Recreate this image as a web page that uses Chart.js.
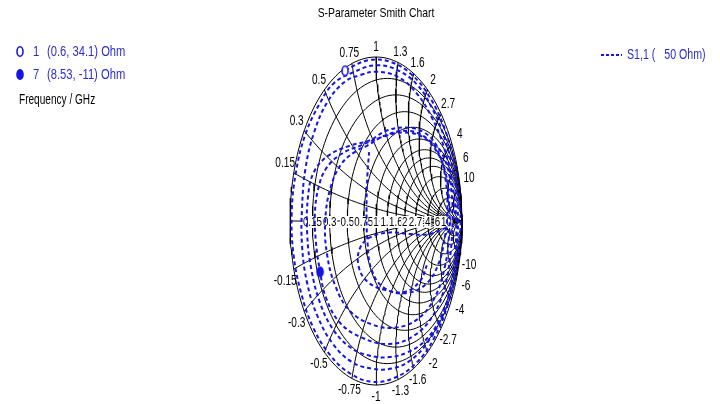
<!DOCTYPE html>
<html>
<head>
<meta charset="utf-8">
<title>S-Parameter Smith Chart</title>
<script src="https://cdn.jsdelivr.net/npm/chart.js@4.4.0/dist/chart.umd.min.js"></script>
<style>
  html, body { margin: 0; padding: 0; background: #fff; }
  #wrap { position: relative; width: 720px; height: 404px; }
</style>
</head>
<body>
<div id="wrap"><canvas id="smith" width="720" height="404"></canvas></div>
<script>
const FONT = "'Liberation Sans', Arial, sans-serif";
const BLUE = '#1414e6';
const TEXT_BLUE = '#2b2bd1';
const INK = '#000';

// Smith grid values (normalised to 50 Ohm)
const rGrid = [0.15, 0.3, 0.5, 0.75, 1, 1.3, 1.6, 2, 2.7, 4, 6, 10];
const xGrid = [0.15, 0.3, 0.5, 0.75, 1, 1.3, 1.6, 2, 2.7, 4, 6, 10];

const s11Re = [
  -0.36, -0.09, 0.17, 0.42, 0.63, 0.80, 0.92, 0.97, 0.98, 0.93, 0.83, 0.67, 0.46, 0.20, -0.05,
  -0.30, -0.53, -0.73, -0.87, -0.96, -0.98, -0.93, -0.82, -0.65, -0.49,
  -0.25, 0.00, 0.25, 0.48, 0.66, 0.80, 0.90, 0.95, 0.94, 0.88, 0.77, 0.60, 0.40, 0.18, -0.05,
  -0.28, -0.50, -0.68, -0.80, -0.86, -0.86, -0.82, -0.72, -0.56, -0.36,
  -0.18, 0.00, 0.25, 0.47, 0.65, 0.79, 0.88, 0.93, 0.92, 0.86, 0.74, 0.57, 0.37, 0.15, -0.08,
  -0.30, -0.50, -0.65, -0.75, -0.80, -0.79, -0.72, -0.55, -0.30, -0.08,
  0.12, 0.34, 0.56, 0.72, 0.83, 0.88, 0.89, 0.87, 0.81, 0.67, 0.44, 0.15, -0.17, -0.42, -0.58,
  -0.65, -0.70, -0.71, -0.67, -0.58, -0.40, -0.18,
  0.06, 0.32, 0.55, 0.71, 0.81, 0.85, 0.85, 0.80, 0.68, 0.48, 0.22, -0.05, -0.30, -0.47, -0.57,
  -0.59, -0.53, -0.40, -0.22, -0.10,
  0.10, 0.37, 0.60, 0.74, 0.81, 0.83, 0.80, 0.72, 0.57, 0.34, 0.10, -0.05, -0.10, -0.11, -0.10, -0.08,
  null,
  0.82, 0.62, 0.40, 0.16, -0.07, -0.19, -0.20, -0.10, 0.10, 0.35, 0.52, 0.59
];
const s11Im = [
  0.92, 0.98, 0.97, 0.89, 0.75, 0.56, 0.33, 0.12, -0.08, -0.30, -0.52, -0.72, -0.87, -0.96, -0.98,
  -0.93, -0.82, -0.65, -0.44, -0.20, 0.05, 0.30, 0.53, 0.72, 0.84,
  0.91, 0.95, 0.92, 0.83, 0.68, 0.50, 0.30, 0.08, -0.15, -0.38, -0.58, -0.74, -0.85, -0.90, -0.90,
  -0.86, -0.75, -0.58, -0.38, -0.15, 0.08, 0.32, 0.54, 0.73, 0.85,
  0.89, 0.91, 0.88, 0.78, 0.63, 0.45, 0.25, 0.03, -0.20, -0.42, -0.60, -0.73, -0.80, -0.83, -0.82,
  -0.77, -0.66, -0.50, -0.30, -0.08, 0.15, 0.30, 0.40, 0.46, 0.49,
  0.55, 0.57, 0.54, 0.45, 0.33, 0.17, 0.00, -0.18, -0.38, -0.57, -0.70, -0.75, -0.71, -0.62, -0.47,
  -0.31, -0.12, 0.05, 0.20, 0.32, 0.41, 0.46,
  0.51, 0.54, 0.51, 0.42, 0.29, 0.12, -0.08, -0.28, -0.47, -0.60, -0.65, -0.63, -0.55, -0.40, -0.20,
  0.00, 0.20, 0.35, 0.43, 0.46,
  0.52, 0.55, 0.50, 0.40, 0.25, 0.06, -0.10, -0.27, -0.39, -0.44, -0.41, -0.30, -0.12, 0.08, 0.28, 0.42,
  null,
  -0.04, -0.08, -0.08, -0.07, -0.10, -0.17, -0.28, -0.37, -0.42, -0.43, -0.36, -0.27
];

// markers: number, resistance and reactance in Ohm
const markerIds = ['1', '7'];
const markerR = [0.6, 8.53];
const markerX = [34.1, -11];
const z0 = 50;

// normalised impedance -> reflection coefficient
function gamma(r, x) {
  const d = (r + 1) * (r + 1) + x * x;
  return { x: (r * r - 1 + x * x) / d, y: (2 * x) / d };
}

// narrow text: the original uses a condensed face
function label(ctx, str, x, y, size, align, color, sx, box) {
  ctx.save();
  ctx.font = size + 'px ' + FONT;
  ctx.textAlign = align;
  ctx.textBaseline = 'middle';
  ctx.translate(x, y);
  ctx.scale(sx, 1);
  if (box) {
    const w = ctx.measureText(str).width;
    ctx.fillStyle = '#fff';
    ctx.fillRect(-w / 2 - 1, -6, w + 2, 12);
  }
  ctx.fillStyle = color;
  ctx.fillText(str, 0, 0);
  ctx.restore();
}

function ovalImage(filled) {
  const c = document.createElement('canvas');
  c.width = 10; c.height = 13;
  const g = c.getContext('2d');
  g.beginPath();
  g.ellipse(5, 6.5, 3, 4.8, 0, 0, Math.PI * 2);
  g.fillStyle = filled ? BLUE : '#fff';
  g.fill();
  g.strokeStyle = BLUE;
  g.lineWidth = 1.6;
  g.stroke();
  return c;
}

const gridStyle = { showLine: true, pointRadius: 0, borderColor: INK, borderWidth: 1, tension: 0 };
const grid = [];

// outer circle and real axis
const outer = [];
for (let a = 0; a <= 360; a += 2) outer.push({ x: Math.cos(a * Math.PI / 180), y: Math.sin(a * Math.PI / 180) });
grid.push({ ...gridStyle, data: outer });
grid.push({ ...gridStyle, data: [{ x: -1, y: 0 }, { x: 1, y: 0 }] });

// constant resistance circles
rGrid.forEach(r => {
  const c = r / (1 + r), rad = 1 / (1 + r), pts = [];
  for (let a = 0; a <= 360; a += 3) pts.push({ x: c + rad * Math.cos(a * Math.PI / 180), y: rad * Math.sin(a * Math.PI / 180) });
  grid.push({ ...gridStyle, data: pts });
});

// constant reactance arcs
xGrid.forEach(xv => {
  [xv, -xv].forEach(x => {
    const pts = [];
    for (let s = 0; s < 90; s += 1.5) pts.push(gamma(Math.tan(s * Math.PI / 180), x));
    pts.push({ x: 1, y: 0 });
    grid.push({ ...gridStyle, data: pts });
  });
});

const trace = s11Re.map((re, i) => re === null ? { x: null, y: null } : { x: re, y: s11Im[i] });
const markerPts = markerIds.map((id, i) => gamma(markerR[i] / z0, markerX[i] / z0));

const TRACE = 2;
const datasets = [
  { label: 'marker 1', data: [markerPts[0]], pointStyle: ovalImage(false), pointRadius: 5, showLine: false },
  { label: 'marker 7', data: [markerPts[1]], pointStyle: ovalImage(true), pointRadius: 5, showLine: false },
  { label: 'S1,1 ( 50 Ohm)', data: trace, showLine: true, spanGaps: false, pointRadius: 0,
    borderColor: BLUE, borderWidth: 2, borderDash: [4, 3], tension: 0.4 },
  ...grid
];

const decor = {
  id: 'decor',
  beforeDatasetDraw(chart, args) {
    if (args.index !== TRACE) return;
    const { ctx, scales: { x, y } } = chart;
    const py = y.getPixelForValue(0) + 1;
    rGrid.forEach(r => {
      label(ctx, String(r), x.getPixelForValue((r - 1) / (r + 1)), py, 13, 'center', INK, 0.75, true);
    });
    // reactance labels round the rim
    xGrid.forEach(xv => {
      [xv, -xv].forEach(v => {
        const g = gamma(0, v);
        const px = x.getPixelForValue(g.x) + 9 * g.x;
        const yy = y.getPixelForValue(g.y) + (v > 0 ? -10 : 12);
        label(ctx, v > 0 ? String(v) : '-' + xv, px, yy, 14, 'center', INK, 0.72, false);
      });
    });
  },
  afterDraw(chart) {
    const { ctx } = chart;
    label(ctx, 'S-Parameter Smith Chart', 376, 13, 13, 'center', INK, 0.8, false);

    ctx.drawImage(ovalImage(false), 15, 45);
    ctx.drawImage(ovalImage(true), 15, 68);
    label(ctx, markerIds[0], 33, 52, 14, 'left', TEXT_BLUE, 0.8, false);
    label(ctx, '(' + markerR[0] + ', ' + markerX[0] + ') Ohm', 47, 52, 14, 'left', TEXT_BLUE, 0.8, false);
    label(ctx, markerIds[1], 33, 75, 14, 'left', TEXT_BLUE, 0.8, false);
    label(ctx, '(' + markerR[1] + ', ' + markerX[1] + ') Ohm', 47, 75, 14, 'left', TEXT_BLUE, 0.8, false);
    label(ctx, 'Frequency / GHz', 19, 100, 14, 'left', INK, 0.72, false);

    ctx.save();
    ctx.strokeStyle = BLUE;
    ctx.lineWidth = 2;
    ctx.setLineDash([3, 2]);
    ctx.beginPath();
    ctx.moveTo(601, 55);
    ctx.lineTo(622, 55);
    ctx.stroke();
    ctx.restore();
    label(ctx, 'S1,1 (   ' + z0 + ' Ohm)', 627, 55, 14, 'left', TEXT_BLUE, 0.76, false);
  }
};

new Chart(document.getElementById('smith'), {
  type: 'scatter',
  data: { datasets },
  options: {
    responsive: false,
    animation: false,
    layout: { padding: { left: 290, right: 258, top: 57, bottom: 19 } },
    scales: {
      x: { type: 'linear', min: -1, max: 1, display: false },
      y: { type: 'linear', min: -1, max: 1, display: false }
    },
    datasets: { scatter: { clip: false } },
    plugins: { legend: { display: false }, tooltip: { enabled: false }, title: { display: false } }
  },
  plugins: [decor]
});
</script>
</body>
</html>
